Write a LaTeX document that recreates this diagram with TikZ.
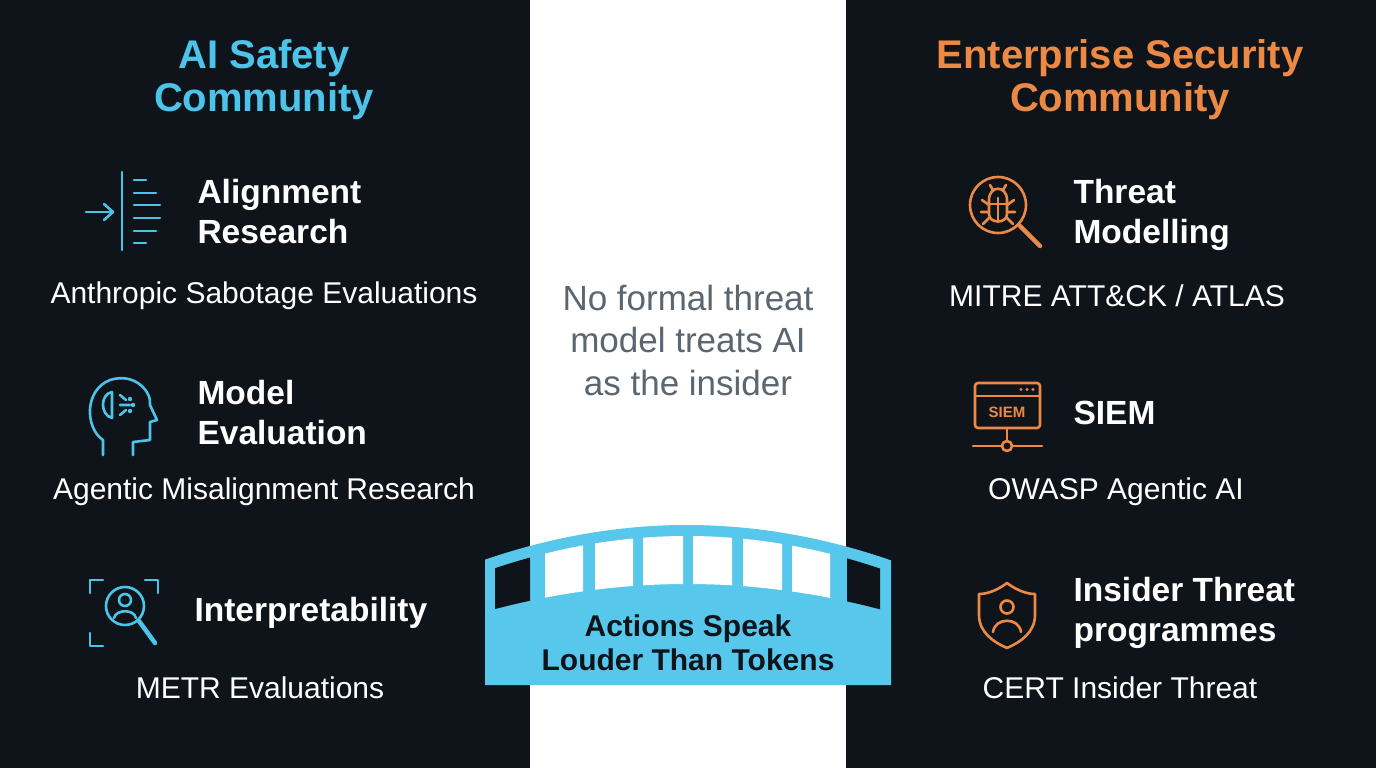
\documentclass[tikz,border=0pt]{standalone}
\usepackage{fontspec}
\setmainfont{Liberation Sans}
\begin{document}
\begin{tikzpicture}[x=1pt,y=-1pt,
 title/.style={font=\fontsize{40}{43}\selectfont\bfseries,align=center},
 item/.style={font=\fontsize{33.5}{40}\selectfont\bfseries,text=white,anchor=west,align=left},
 sub/.style={font=\fontsize{30}{30}\selectfont,text=white},
 ic/.style={line width=2.6pt,line cap=round,line join=round},
 ]
\definecolor{bg}{HTML}{0F141B}
\definecolor{cy}{HTML}{4CC3E8}
\definecolor{br}{HTML}{57C8EC}
\definecolor{og}{HTML}{EC8A45}
\definecolor{gy}{HTML}{5B6670}
\useasboundingbox (0,0) rectangle (1376,768);
\fill[bg] (0,0) rectangle (1376,768);
\fill[white] (530,0) rectangle (846,768);
% titles
\node[title,text=cy] (lt) at (264,80) {AI Safety\\Community};
\node[title,text=og] (rt) at (1120,80) {Enterprise Security\\Community};
% left items
\node[item] (a1) at (194,212) {Alignment\\Research};
\node[sub] (s1) at (264,296) {Anthropic Sabotage Evaluations};
\node[item] (a2) at (194,413) {Model\\Evaluation};
\node[sub] (s2) at (264,492) {Agentic Misalignment Research};
\node[item] (a3) at (191,613) {Interpretability};
\node[sub] (s3) at (260,688) {METR Evaluations};
% right items
\node[item] (b1) at (1070,215) {Threat\\Modelling};
\node[sub] (t1) at (1117,296) {MITRE ATT\&CK / ATLAS};
\node[item] (b2) at (1070,413) {SIEM};
\node[sub] (t2) at (1116,492) {OWASP Agentic AI};
\node[item] (b3) at (1070,613) {Insider Threat\\programmes};
\node[sub] (t3) at (1120,688) {CERT Insider Threat};
% center
\node[font=\fontsize{35}{42.5}\selectfont,text=gy,align=center] (c) at (688,340) {No formal threat\\model treats AI\\as the insider};
% bridge
\fill[br] (485,685) -- plot[domain=485:891,samples=40] (\x,{525+35*((\x-687)/203)^2}) -- (891,685) -- cycle;
\foreach \a/\b/\c in {495/530/bg,545/583/white,595/633/white,643/683/white,693/732/white,743/782/white,792/830/white,847/880/bg}{
 \fill[\c] plot[domain=\a:\b,samples=10] (\x,{536+36*((\x-687)/203)^2}) -- plot[domain=\b:\a,samples=10] (\x,{584+28*((\x-687)/203)^2}) -- cycle;}
\node[font=\fontsize{30}{34}\selectfont\bfseries,text=bg,align=center] (bt) at (688,643) {Actions Speak\\Louder Than Tokens};
% icon 1: alignment
\begin{scope}[cy,ic]
\draw (122,172) -- (122,250);
\draw (86,212) -- (113,212); \draw (104,204) -- (113,212) -- (104,220);
\foreach \y/\l in {180/146,193/156,205/160,218/160,231/156,243/146}{\draw (134,\y) -- (\l,\y);}
% icon 2: head
\draw (103,455) -- (103,440) .. controls (85,428) and (84,390) .. (110,380) .. controls (135,372) and (152,392) .. (150,405) -- (157,420) -- (150,422) -- (150,440) -- (133,442) -- (133,455);
\draw (112,392) .. controls (100,394) and (100,415) .. (112,418) -- (112,392);
\draw (120,395) -- (126,400) (120,405) -- (130,405) (120,415) -- (126,410);
\fill (130,399) circle (2.2) (133,405) circle (2.2) (130,411) circle (2.2);
% icon 3: interpretability
\draw (90,593) -- (90,580) -- (103,580) (145,580) -- (158,580) -- (158,593);
\draw (90,633) -- (90,646) -- (103,646);
\draw (125,606) circle (19);
\draw (125,600) circle (6);
\draw (114,618) .. controls (116,609) and (134,609) .. (136,618);
\draw[line width=4.5pt] (139,621) -- (155,643);
\end{scope}
% right icons
\begin{scope}[og,ic]
\draw (998,205) circle (28);
\draw[line width=4.5pt] (1020,226) -- (1040,246);
\draw (989,200) .. controls (989,185) and (1007,185) .. (1007,200) -- (1007,214) .. controls (1007,224) and (989,224) .. (989,214) -- cycle;
\draw (998,198) -- (998,222) (989,204) -- (1007,204);
\draw (993,190) -- (990,185) (1003,190) -- (1006,185);
\draw (989,205) -- (982,200) (989,212) -- (981,212) (989,218) -- (983,224);
\draw (1007,205) -- (1014,200) (1007,212) -- (1015,212) (1007,218) -- (1013,224);
% siem
\draw[rounded corners=3] (975,383) rectangle (1040,428);
\draw (975,396) -- (1040,396);
\fill (1021,389.5) circle (1.6) (1027,389.5) circle (1.6) (1033,389.5) circle (1.6);
\node[font=\fontsize{15}{15}\selectfont\bfseries,text=og] (siem) at (1007,412) {SIEM};
\draw (1007,428) -- (1007,441);
\draw (1007,446) circle (5);
\draw (973,446) -- (1002,446) (1012,446) -- (1042,446);
% shield
\draw (1007,583) .. controls (995,592) and (985,594) .. (979,594) -- (979,615) .. controls (979,632) and (993,642) .. (1007,648) .. controls (1021,642) and (1035,632) .. (1035,615) -- (1035,594) .. controls (1029,594) and (1019,592) .. (1007,583) -- cycle;
\draw (1007,607) circle (6.5);
\draw (993,632) .. controls (995,617) and (1019,617) .. (1021,632);
\end{scope}
\end{tikzpicture}
\end{document}
